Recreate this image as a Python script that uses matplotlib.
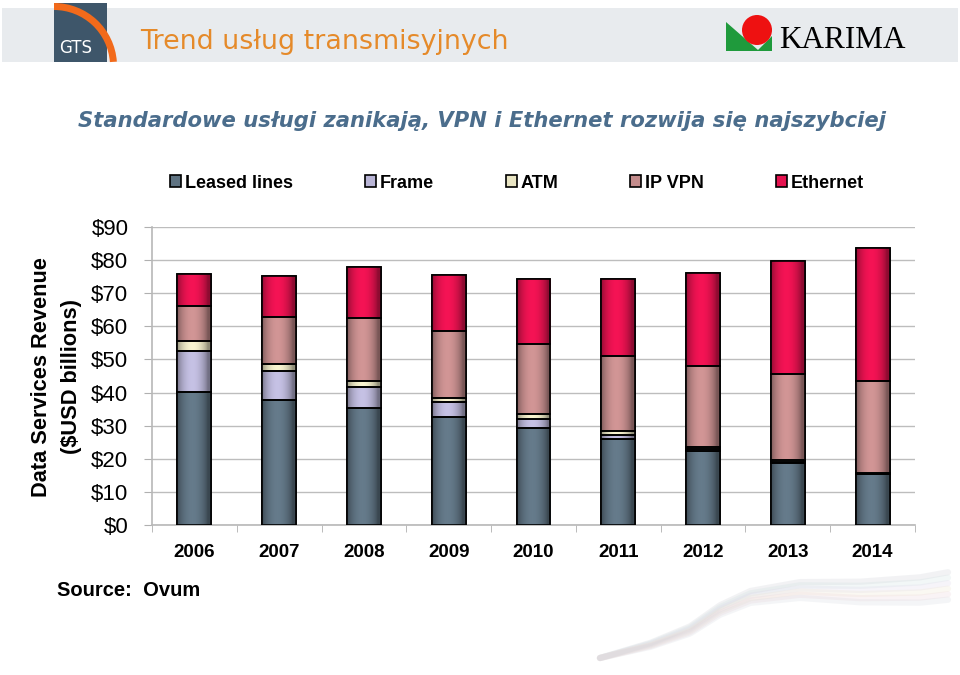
import numpy as np
import matplotlib
matplotlib.use("Agg")
import matplotlib.pyplot as plt
from matplotlib.patches import Rectangle, Circle, Polygon, Wedge
from matplotlib.colors import to_rgb

# ---- data ----
years = ["2006", "2007", "2008", "2009", "2010", "2011", "2012", "2013", "2014"]
series_names = ["Leased lines", "Frame", "ATM", "IP VPN", "Ethernet"]
leased = [40.2, 37.8, 35.4, 32.7, 29.3, 25.9, 22.4, 18.8, 15.4]
frame = [12.5, 8.7, 6.4, 4.3, 2.7, 1.3, 0.5, 0.3, 0.15]
atm = [2.9, 2.1, 1.8, 1.4, 1.4, 1.1, 0.6, 0.4, 0.15]
ipvpn = [10.4, 14.3, 18.9, 20.1, 21.3, 22.7, 24.4, 26.0, 27.7]
ethernet = [9.7, 12.4, 15.5, 17.1, 19.5, 23.2, 28.2, 34.2, 40.3]
yticks = [0, 10, 20, 30, 40, 50, 60, 70, 80, 90]
ytick_labels = ["$0", "$10", "$20", "$30", "$40", "$50", "$60", "$70", "$80", "$90"]
colors = ["#5f7382", "#b9b5d6", "#e9e5c3", "#c48c8c", "#e5124f"]

plt.rcParams['font.family'] = ['Liberation Sans', 'DejaVu Sans']

fig = plt.figure(figsize=(9.6, 6.75), dpi=100)

# ---- overlay for header/decoration (pixel coordinates) ----
ov = fig.add_axes([0, 0, 1, 1], zorder=0)
ov.set_xlim(0, 960)
ov.set_ylim(675, 0)
ov.axis("off")
ov.add_patch(Rectangle((2, 8), 956, 54, color="#e8ebee", lw=0))
# GTS logo
ov.add_patch(Rectangle((54, 3), 53, 59, color="#3e566a", lw=0))
ov.add_patch(Wedge((54, 66), 63, -90, -4, width=7, color="#f26a1b", lw=0))
ov.text(59, 48, "GTS", color="white", fontsize=12, family="DejaVu Sans", va="center", ha="left")
# title
ov.text(140, 42, "Trend usług transmisyjnych", color="#e58a2a", fontsize=19.4,
        family="DejaVu Sans", va="center", ha="left")
# KARIMA logo
ov.add_patch(Polygon([(726, 22), (726, 51), (772, 51), (772, 36), (758, 50)], closed=True,
                     color="#1f9a3c", lw=0))
ov.add_patch(Circle((757, 30), 15, color="#ee1111", lw=0))
ov.text(779, 41, "KARIMA", color="black", fontsize=22.5, family="Liberation Serif",
        va="center", ha="left")
# subtitle
ov.text(482, 121, "Standardowe usługi zanikają, VPN i Ethernet rozwija się najszybciej",
        color="#4b6d8c", fontsize=15.2, family="DejaVu Sans", fontweight="bold",
        style="italic", va="center", ha="center")
# y label
ov.text(42, 377, "Data Services Revenue", rotation=90, fontsize=15.7, fontweight="bold",
        va="center", ha="center")
ov.text(71, 377, "($USD billions)", rotation=90, fontsize=15.7, fontweight="bold",
        va="center", ha="center")
ov.text(57, 591, "Source:  Ovum", fontsize=14.5, fontweight="bold", va="center", ha="left")

# faint decorative swirl (bottom right)
swirl_x = np.array([600, 650, 690, 720, 750, 800, 860, 920, 948])
swirl_y = np.array([658, 645, 630, 610, 597, 590, 592, 590, 586])
sx = np.linspace(600, 948, 200)
sy = np.interp(sx, swirl_x, swirl_y)
spread = np.clip((sx - 600) / 348, 0, 1)
swirl_cols = ["#c5c8d0", "#c8dcdc", "#d8cfe6", "#ece2c8", "#e8ccd4", "#d0d4dc"]
for k, c in enumerate(swirl_cols):
    off = (k - 2.5) * 5.5 * spread
    ov.plot(sx, sy + off, color=c, lw=3 + 3 * spread.mean(), alpha=0.22,
            solid_capstyle="round")

# ---- chart ----
ax = fig.add_axes([152 / 960, 1 - 525 / 675, (915 - 152) / 960, (525 - 227) / 675], zorder=2)
ax.patch.set_alpha(0)
x = np.arange(len(years))
series = [leased, frame, atm, ipvpn, ethernet]
bottom = np.zeros(len(years))
width = 0.40
grad_x = np.linspace(0, 1, 64)
shade = 0.62 + 0.45 * np.sin(np.pi * np.clip(grad_x * 1.1, 0, 1)) ** 0.7
shade = np.clip(shade, 0, 1.08)
for vals, col, name in zip(series, colors, series_names):
    bars = ax.bar(x, vals, width, bottom=bottom, color=col, edgecolor="black",
                  linewidth=1.2, label=name, zorder=3)
    base = np.array(to_rgb(col))
    img = np.clip(base[None, None, :] * shade[None, :, None], 0, 1)
    for b in bars:
        x0, y0 = b.get_x(), b.get_y()
        w, h = b.get_width(), b.get_height()
        im = ax.imshow(img, extent=[x0, x0 + w, y0, y0 + h], aspect="auto",
                       zorder=3.5, interpolation="bilinear")
        im.set_clip_path(b)
        ax.add_patch(Rectangle((x0, y0), w, h, fill=False, edgecolor="black",
                               linewidth=1.2, zorder=4))
    bottom += np.array(vals)

ax.set_xlim(-0.5, len(years) - 0.5)
ax.set_ylim(0, 90)
ax.set_yticks(yticks)
ax.set_yticklabels(ytick_labels, fontsize=16)
ax.set_xticks(x)
ax.set_xticklabels(years, fontsize=13.5, fontweight="bold")
ax.tick_params(axis="x", length=0, pad=14)
ax.set_xticks(np.arange(-0.5, len(years) + 0.5, 1), minor=True)
ax.tick_params(axis="x", which="minor", length=5, color="#b0b0b0", direction="out")
ax.tick_params(axis="y", length=6, color="#b0b0b0", pad=11)
ax.grid(axis="y", color="#bdbdbd", linewidth=1.0, zorder=0)
for s in ["top", "right"]:
    ax.spines[s].set_visible(False)
for s in ["left", "bottom"]:
    ax.spines[s].set_color("#b8b8b8")
    ax.spines[s].set_linewidth(1.2)

leg = fig.legend(*ax.get_legend_handles_labels(), loc="center",
                 bbox_to_anchor=(517 / 960, 1 - 183 / 675), ncol=5, frameon=False,
                 prop={"size": 13, "weight": "bold"}, handlelength=0.6, handleheight=0.6,
                 columnspacing=4.0, handletextpad=0.2)

fig.savefig("out.png", dpi=100)
